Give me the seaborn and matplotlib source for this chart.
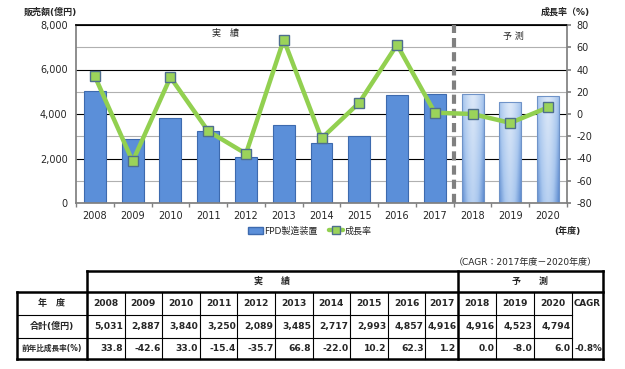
import numpy as np
import pandas as pd
import matplotlib
matplotlib.use('Agg')
import matplotlib.pyplot as plt
import seaborn as sns
from matplotlib.lines import Line2D

years = ['2008', '2009', '2010', '2011', '2012', '2013', '2014',
         '2015', '2016', '2017', '2018', '2019', '2020']
sales = [5031, 2887, 3840, 3250, 2089, 3485, 2717, 2993, 4857, 4916, 4916, 4523, 4794]
growth = [33.8, -42.6, 33.0, -15.4, -35.7, 66.8, -22.0, 10.2, 62.3, 1.2, 0.0, -8.0, 6.0]
cagr = '-0.8%'
n_actual = 10  # 2008-2017 actual, 2018-2020 forecast

sns.set_theme(style='white')
plt.rcParams['font.family'] = ['DejaVu Sans', 'Noto Sans CJK JP']
plt.rcParams['axes.unicode_minus'] = False

df = pd.DataFrame({'year': years, 'sales': sales, 'growth': growth})

fig = plt.figure(figsize=(6.25, 3.69), dpi=100)
W, H = 625, 369
ax = fig.add_axes([76 / W, 1 - 203 / H, (567 - 76) / W, (203 - 25) / H])

sns.barplot(data=df, x='year', y='sales', ax=ax, color='#5B8FD9', width=0.58,
            saturation=1, edgecolor='#3D6AAE', linewidth=0.8, zorder=2)

# gradient fill for the forecast bars
gx, gy = np.meshgrid(np.linspace(-1, 1, 60), np.linspace(0, 1, 60))
light = np.clip(1 - 0.55 * np.abs(gx) ** 1.5 - 0.35 * gy, 0, 1)
cmap = matplotlib.colors.LinearSegmentedColormap.from_list('fc', ['#4A7CC8', '#A9C7EE', '#DCE8F8'])
for i, p in enumerate(ax.patches):
    if i >= n_actual:
        x0, w = p.get_x(), p.get_width()
        h = p.get_height()
        im = ax.imshow(light, cmap=cmap, vmin=0, vmax=1, aspect='auto', origin='upper',
                       extent=[x0, x0 + w, 0, h], zorder=2.1)
        im.set_clip_path(p)
        p.set_facecolor('none')
        p.set_edgecolor('#6F93C8')
        p.set_zorder(2.2)
ax.set_aspect('auto')
ax.set_ylim(0, 8000)
ax.set_xlim(-0.5, len(years) - 0.5)

ax.set_yticks(np.arange(0, 8001, 2000))
ax.set_yticks(np.arange(1000, 8000, 2000), minor=True)
ax.set_yticklabels([f'{v:,}' for v in range(0, 8001, 2000)], fontsize=7)
ax.grid(True, axis='y', which='major', color='black', lw=0.8, zorder=0)
ax.grid(True, axis='y', which='minor', color='#B0B0B0', lw=0.8, zorder=0)
ax.set_axisbelow(True)
ax.set_xticks(np.arange(-0.5, len(years), 1.0), minor=True)
ax.tick_params(axis='x', which='major', length=0, labelsize=7, pad=6)
ax.tick_params(axis='x', which='minor', length=3, color='#808080', direction='out', bottom=True)
ax.tick_params(axis='y', which='both', length=0, pad=6)
ax.set_xlabel('')
ax.set_ylabel('')
for s in ['left', 'bottom', 'right']:
    ax.spines[s].set_color('#808080')
ax.spines['top'].set_color('black')

ax.axvline(n_actual - 0.5, color='#808080', lw=3, ls=(0, (2.2, 1.2)), zorder=3)

ax2 = ax.twinx()
sns.lineplot(x=np.arange(len(years)), y=growth, ax=ax2, color='#92D050', lw=3.2,
             marker='s', markersize=7, markerfacecolor='#9BD35A',
             markeredgecolor='#4E6E8E', markeredgewidth=1.0, zorder=5)
ax2.set_ylim(-80, 80)
ax2.set_yticks(np.arange(-80, 81, 20))
ax2.set_yticklabels([str(v) for v in range(-80, 81, 20)], fontsize=7)
ax2.tick_params(axis='y', length=3, color='#808080', direction='out', pad=4)
ax2.set_xlim(-0.5, len(years) - 0.5)
ax2.grid(False)
for s in ax2.spines.values():
    s.set_visible(False)

ax.text(0.305, 0.955, '実　績', transform=ax.transAxes, fontsize=6.5, ha='center', va='center')
ax.text(0.89, 0.935, '予 測', transform=ax.transAxes, fontsize=6.5, ha='center', va='center')

fig.text(50 / W, 1 - 12 / H, '販売額(億円)', fontsize=6.5, fontweight='bold', ha='center', va='center')
fig.text(565 / W, 1 - 12 / H, '成長率（%)', fontsize=6.5, fontweight='bold', ha='center', va='center')
fig.text(567 / W, 1 - 231 / H, '(年度)', fontsize=6.5, fontweight='bold', ha='center', va='center')

handles = [matplotlib.patches.Patch(facecolor='#5B8FD9', edgecolor='#3D6AAE'),
           Line2D([], [], color='#92D050', lw=3.2, marker='s', markersize=6,
                  markerfacecolor='#9BD35A', markeredgecolor='#4E6E8E')]
fig.legend(handles, ['FPD製造装置', '成長率'], loc='center', bbox_to_anchor=(310 / W, 1 - 231 / H),
           ncol=2, frameon=False, fontsize=6.5, handlelength=1.6, columnspacing=1.2,
           handletextpad=0.2)

# table
tax = fig.add_axes([0, 0, 1, 1])
tax.set_xlim(0, W)
tax.set_ylim(H, 0)
tax.axis('off')

col_edges = [17, 87] + [87 + 37.6 * (i + 1) for i in range(9)] + [458, 496, 534, 572, 603]
thick, thin = 1.8, 0.8

def hline(y, x0, x1, lw):
    tax.plot([x0, x1], [y, y], color='black', lw=lw, solid_capstyle='projecting')

def vline(x, y0, y1, lw):
    tax.plot([x, x], [y0, y1], color='black', lw=lw, solid_capstyle='projecting')

hline(271, 87, 603, thick)
hline(292, 17, 603, thick)
hline(315, 17, 572, thin)
hline(338, 17, 572, thin)
hline(359, 17, 603, thick)
vline(17, 292, 359, thick)
vline(87, 271, 359, thick)
vline(458, 271, 359, thick)
vline(603, 271, 359, thick)
vline(572, 292, 359, thin)
for x in col_edges[2:-1]:
    if x not in (458, 572):
        vline(x, 292, 359, thin)

tax.text((87 + 458) / 2, 281.5, '実　　績', fontsize=6.5, fontweight='bold', ha='center', va='center')
tax.text((458 + 603) / 2, 281.5, '予　　測', fontsize=6.5, fontweight='bold', ha='center', va='center')
tax.text(597, 263, '（CAGR：2017年度－2020年度）', fontsize=6.5, ha='right', va='center')

tax.text(52, 303.5, '年　度', fontsize=6.5, fontweight='bold', ha='center', va='center')
tax.text(52, 326.5, '合計(億円)', fontsize=6.5, fontweight='bold', ha='center', va='center')
tax.text(52, 348.5, '前年比成長率(%)', fontsize=5.5, fontweight='bold', ha='center', va='center')

fs = 6.6
for i, yr in enumerate(years):
    x0, x1 = col_edges[i + 1], col_edges[i + 2]
    tax.text((x0 + x1) / 2, 303.5, yr, fontsize=fs, fontweight='bold', ha='center', va='center')
    tax.text(x1 - 1.5, 326.5, f'{sales[i]:,}', fontsize=fs, fontweight='bold', ha='right', va='center')
    tax.text(x1 - 1.5, 348.5, f'{growth[i]:.1f}', fontsize=fs, fontweight='bold', ha='right', va='center')
tax.text((572 + 603) / 2, 303.5, 'CAGR', fontsize=6.3, fontweight='bold', ha='center', va='center')
tax.text(602, 348.5, cagr, fontsize=6.3, fontweight='bold', ha='right', va='center')

fig.savefig('out.png', dpi=100)
